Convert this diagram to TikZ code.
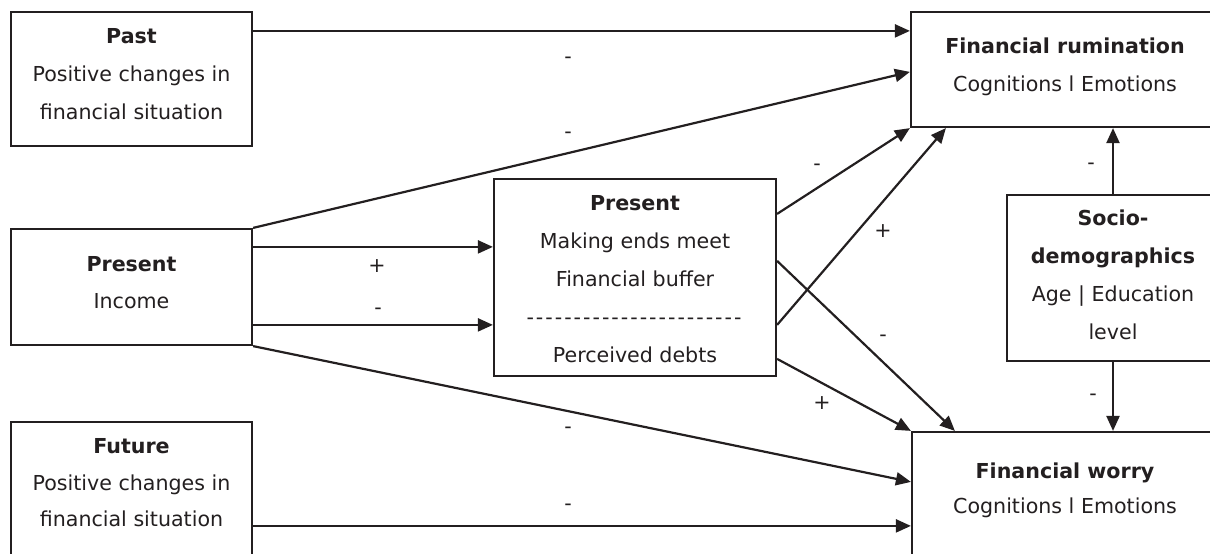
\documentclass[tikz,border=0pt]{standalone}
\usepackage{fontspec}
\setmainfont{DejaVu Sans}
\usetikzlibrary{arrows.meta}
\definecolor{ink}{HTML}{231F20}
\newcommand\hy{-\kern2pt}
\begin{document}
\begin{tikzpicture}[x=1pt,y=-1pt,
  box/.style={draw=ink,line width=2.2pt,inner sep=0pt,fill=white},
  txt/.style={text=ink,font=\fontsize{20.6}{38}\selectfont,align=center,inner sep=0pt,anchor=north},
  lbl/.style={text=ink,font=\fontsize{20.6}{24}\selectfont,inner sep=0pt},
  arr/.style={draw=ink,line width=2.2pt,-{Triangle[length=15pt,width=13pt]}}]
\useasboundingbox (0,0) rectangle (1210,554);
\clip (0,0) rectangle (1210,554);
% boxes
\node[box,minimum width=241pt,minimum height=134pt] (past) at (131.5,79) {};
\node[box,minimum width=308pt,minimum height=115pt] (fr) at (1065,69.5) {};
\node[box,minimum width=241pt,minimum height=116pt] (inc) at (131.5,287) {};
\node[box,minimum width=282pt,minimum height=197pt] (mid) at (635,277.5) {};
\node[box,minimum width=212pt,minimum height=166pt] (soc) at (1113,278) {};
\node[box,minimum width=241pt,minimum height=150pt] (fut) at (131.5,497) {};
\node[box,minimum width=307pt,minimum height=140pt] (fw) at (1065.5,502) {};
% texts
\node[txt] (pastT) at (131.5,28) {\textbf{Past}\\Positive changes in\\financial situation};
\node[txt] (frT) at (1065,37.4) {\textbf{Financial rumination}\\Cognitions l Emotions};
\node[txt] (incT) at (131.5,256) {\textbf{Present}\\[-1pt]Income};
\node[txt] (midT) at (635,195) {\textbf{Present}\\Making ends meet\\Financial buffer\\\hy\hy\hy\hy\hy\hy\hy\hy\hy\hy\hy\hy\hy\hy\hy\hy\hy\hy\hy\hy\hy\hy\hy\\Perceived debts};
\node[txt] (socT) at (1113,209.8) {\textbf{Socio-}\\\textbf{demographics}\\Age | Education\\level};
\node[txt] (futT) at (131.5,438) {\textbf{Future}\\[-0.5pt]Positive changes in\\[-2pt]financial situation};
\node[txt] (fwT) at (1065,462.4) {\textbf{Financial worry}\\[-3pt]Cognitions l Emotions};
% connectors
\draw[arr] ([yshift=-20pt]past.north east) -- ([yshift=-20pt]fr.north west);
\draw[arr] (inc.north east) -- ([yshift=-61pt]fr.north west);
\draw[arr] ([yshift=-19pt]inc.north east) -- ([yshift=-69pt]mid.north west);
\draw[arr] ([yshift=-97pt]inc.north east) -- ([yshift=-147pt]mid.north west);
\draw[arr] (inc.south east) -- ([yshift=-51pt]fw.north west);
\draw[arr] ([yshift=-105pt]fut.north east) -- ([yshift=-95pt]fw.north west);
\draw[arr] ([yshift=-36pt]mid.north east) -- (fr.south west);
\draw[arr] ([yshift=-147pt]mid.north east) -- ([xshift=36pt]fr.south west);
\draw[arr] ([yshift=-83pt]mid.north east) -- ([xshift=44pt]fw.north west);
\draw[arr] ([yshift=-181pt]mid.north east) -- (fw.north west);
\draw[arr] (soc.north) -- (soc.north |- fr.south);
\draw[arr] (soc.south) -- (soc.south |- fw.north);
% labels
\node[lbl] (l1) at (568,60) {-};
\node[lbl] (l2) at (568,135) {-};
\node[lbl] (l3) at (377,266) {+};
\node[lbl] (l4) at (378,311) {-};
\node[lbl] (l5) at (568,430) {-};
\node[lbl] (l6) at (568,507) {-};
\node[lbl] (l7) at (817,167) {-};
\node[lbl] (l8) at (883,231) {+};
\node[lbl] (l9) at (883,338) {-};
\node[lbl] (l10) at (822,403) {+};
\node[lbl] (l11) at (1091,166) {-};
\node[lbl] (l12) at (1093,397) {-};
\end{tikzpicture}
\end{document}
